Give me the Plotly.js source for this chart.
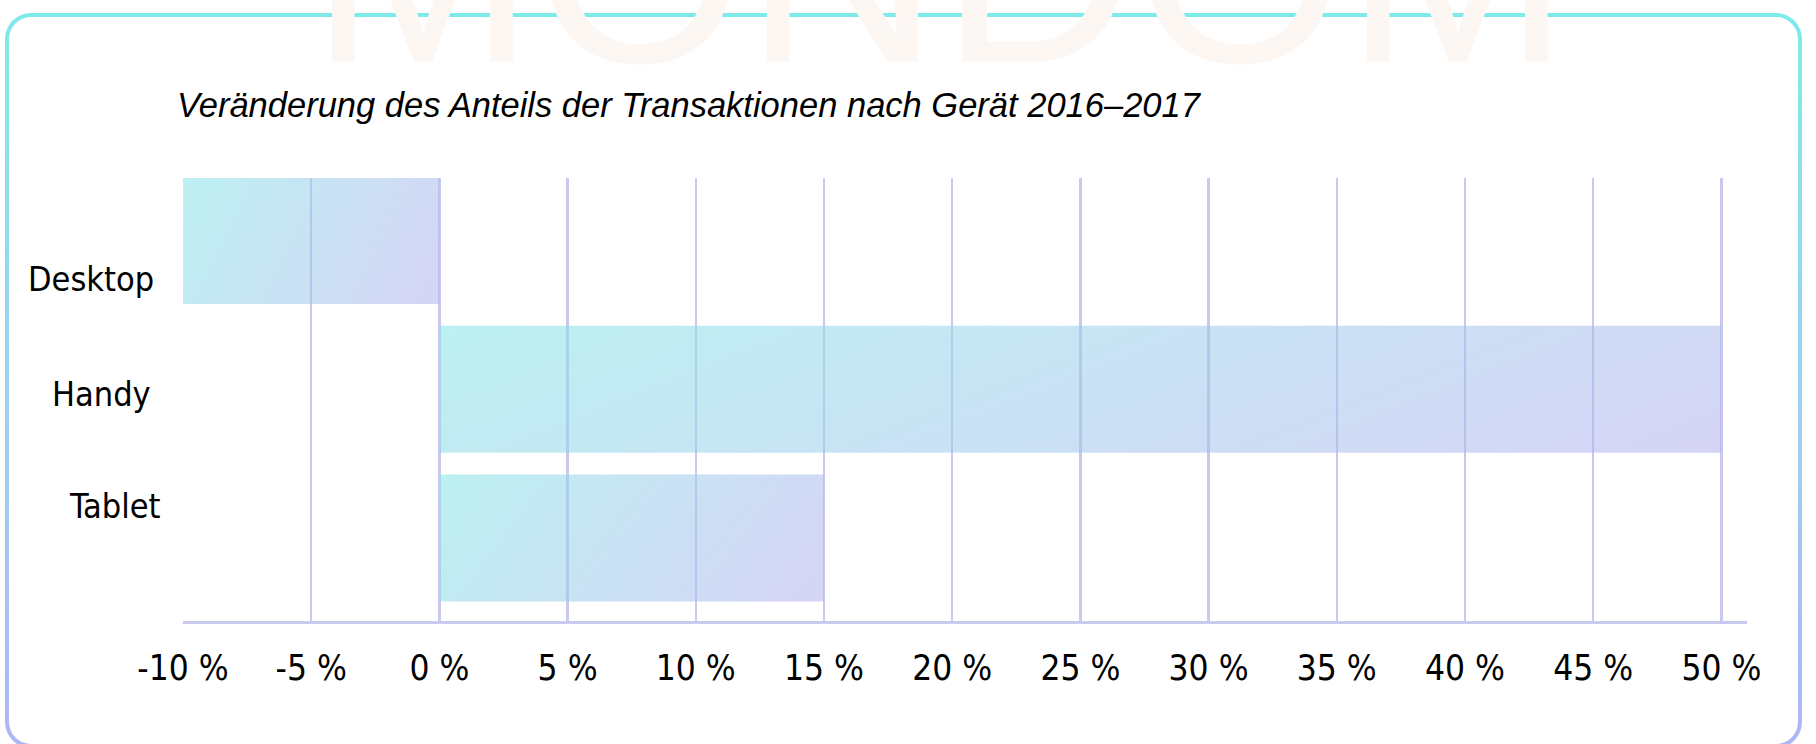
<!DOCTYPE html>
<html>
<head>
<meta charset="utf-8">
<script src="https://cdn.plot.ly/plotly-3.0.1.min.js"></script>
<style>
  html, body { margin: 0; padding: 0; background: #ffffff; }
  #wrap { position: relative; width: 1816px; height: 744px; overflow: hidden; background: #ffffff; }
  #frame { position: absolute; left: 5px; top: 13px; width: 1797px; height: 735px;
           border-radius: 26px; background: linear-gradient(to bottom, #7eeaea 0%, #9fd0f0 55%, #adb6f5 100%); }
  #frameInner { position: absolute; left: 4px; top: 4px; right: 4px; bottom: 4px; border-radius: 22px; background: #ffffff; }
  #chart { position: absolute; left: 0; top: 0; width: 1816px; height: 744px; }
</style>
</head>
<body>
<div id="wrap">
  <div id="frame"><div id="frameInner"></div></div>
  <div id="chart"></div>
</div>
<script>
// ---- data ----
var categories = ['Desktop', 'Handy', 'Tablet'];
var changePct = [-10, 50, 15];
var tickValues = [-10, -5, 0, 5, 10, 15, 20, 25, 30, 35, 40, 45, 50];
var tickLabels = ['-10 %', '-5 %', '0 %', '5 %', '10 %', '15 %', '20 %', '25 %', '30 %', '35 %', '40 %', '45 %', '50 %'];
var chartTitle = 'Veränderung des Anteils der Transaktionen nach Gerät 2016–2017';
var watermark = 'MONDOM';

// ---- layout helpers (pixel -> paper) ----
var W = 1816, H = 744;
var M = { l: 183, r: 69, t: 178, b: 123 };
var PW = W - M.l - M.r, PH = H - M.t - M.b;
function px(x) { return (x - M.l) / PW; }
function py(y) { return (H - M.b - y) / PH; }

// label positions (pixels) as in the reference
var labelPos = [ { x: 156, y: 279 }, { x: 153, y: 394 }, { x: 163, y: 506 } ];

var annotations = categories.map(function (c, i) {
  return {
    text: c, xref: 'paper', yref: 'paper', x: px(labelPos[i].x), y: py(labelPos[i].y),
    xanchor: 'right', yanchor: 'middle', showarrow: false,
    font: { family: 'DejaVu Sans Condensed, DejaVu Sans, sans-serif', size: 34, color: '#000000' }
  };
});
annotations.push({
  text: watermark, xref: 'paper', yref: 'paper', x: px(940), y: py(121),
  xanchor: 'center', yanchor: 'bottom', showarrow: false,
  font: { family: 'Liberation Sans, Arial, sans-serif', size: 270, color: '#fcf7f3', weight: 400 }
});

var trace = {
  type: 'bar',
  orientation: 'h',
  y: categories,
  x: changePct,
  width: 0.854,
  marker: { color: 'rgba(160,205,235,0.55)', line: { width: 0 } },
  hoverinfo: 'none'
};

var gridCol = '#c9c9ed';
var layout = {
  width: W, height: H,
  margin: M,
  paper_bgcolor: 'rgba(0,0,0,0)',
  plot_bgcolor: 'rgba(0,0,0,0)',
  showlegend: false,
  title: {
    text: chartTitle,
    xref: 'container', yref: 'container',
    x: 177 / W, xanchor: 'left',
    y: 1 - 105 / H, yanchor: 'middle',
    font: { family: 'Liberation Sans, Arial, sans-serif', size: 34.5, style: 'italic', color: '#000000' }
  },
  xaxis: {
    range: [-10, 51],
    tickmode: 'array', tickvals: tickValues, ticktext: tickLabels,
    showgrid: true, gridcolor: gridCol, gridwidth: 2.5,
    zeroline: false,
    showline: true, linecolor: gridCol, linewidth: 3,
    ticks: '', ticklabelstandoff: 14,
    tickfont: { family: 'DejaVu Sans Condensed, DejaVu Sans, sans-serif', size: 35, color: '#000000' },
    fixedrange: true
  },
  yaxis: {
    type: 'category',
    range: [2.558, -0.42],
    showticklabels: false, showgrid: false, zeroline: false, showline: false, ticks: '',
    fixedrange: true
  },
  annotations: annotations
};

var gd = document.getElementById('chart');
Plotly.newPlot(gd, [trace], layout, { staticPlot: true, displayModeBar: false }).then(function () {
  var svg = gd.querySelector('svg.main-svg');
  var ns = 'http://www.w3.org/2000/svg';
  var defs = svg.querySelector('defs') || svg.insertBefore(document.createElementNS(ns, 'defs'), svg.firstChild);
  var lg = document.createElementNS(ns, 'linearGradient');
  lg.setAttribute('id', 'barGrad');
  lg.setAttribute('x1', '0'); lg.setAttribute('y1', '0');
  lg.setAttribute('x2', '1.176'); lg.setAttribute('y2', '0.294');
  [['0', 'rgb(133,228,230)'], ['1', 'rgb(180,177,239)']].forEach(function (s) {
    var st = document.createElementNS(ns, 'stop');
    st.setAttribute('offset', s[0]);
    st.setAttribute('stop-color', s[1]);
    st.setAttribute('stop-opacity', '0.55');
    lg.appendChild(st);
  });
  defs.appendChild(lg);
  gd.querySelectorAll('.barlayer .point path').forEach(function (p) {
    p.style.fill = 'url(#barGrad)';
    p.style.fillOpacity = '1';
  });
});
</script>
</body>
</html>
